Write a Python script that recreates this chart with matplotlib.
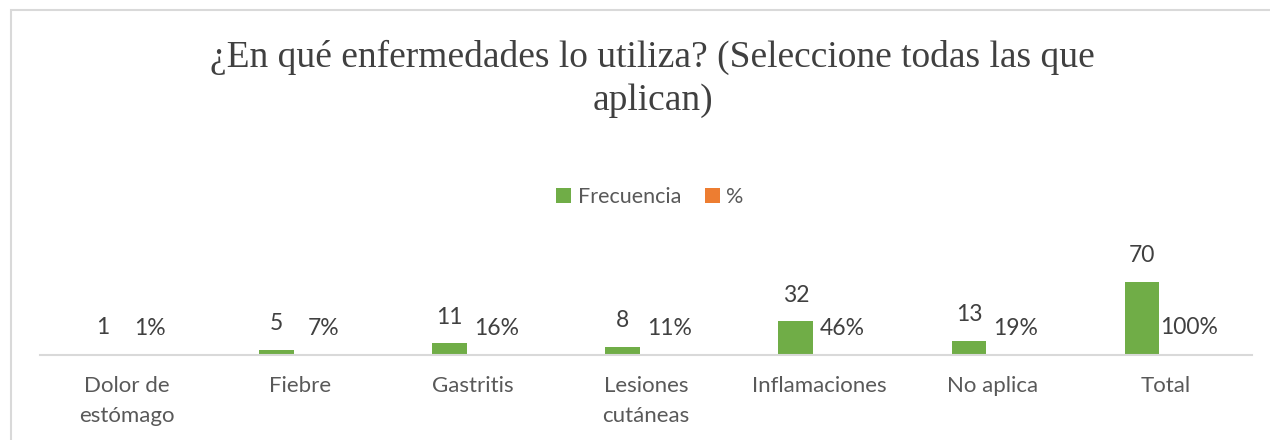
import matplotlib.pyplot as plt
import matplotlib.patches as mpatches
import numpy as np

# Datos del grafico
categorias = ["Dolor de\nestómago", "Fiebre", "Gastritis", "Lesiones\ncutáneas",
              "Inflamaciones", "No aplica", "Total"]
frecuencia = [1, 5, 11, 8, 32, 13, 70]
porcentaje = [0.01, 0.07, 0.16, 0.11, 0.46, 0.19, 1.00]
etiquetas_pct = ["1%", "7%", "16%", "11%", "46%", "19%", "100%"]

verde = "#70AD47"
naranja = "#ED7D31"
gris_texto = "#595959"
fuente = "Lato"

fig = plt.figure(figsize=(12.7, 4.4), dpi=100)

# marco del grafico
marco = mpatches.Rectangle((11 / 1270, -0.1), 1.2, 1 - 10 / 440 + 0.1,
                           transform=fig.transFigure, fill=False,
                           edgecolor="#D9D9D9", linewidth=1.5)
fig.patches.append(marco)

ax = fig.add_axes([40 / 1270, 85 / 440, 1212 / 1270, 84 / 440])
x = np.arange(len(categorias))
ancho = 0.2
desp = 0.135

b1 = ax.bar(x - desp, frecuencia, ancho, color=verde, label="Frecuencia")
b2 = ax.bar(x + desp, porcentaje, ancho, color=naranja, label="%")

for xi, v in zip(x, frecuencia):
    ax.annotate(str(v), (xi - desp, v), xytext=(0, 19), textcoords="offset points",
                ha="center", va="center", fontsize=16.5, color="#404040", family=fuente)
for xi, v, t in zip(x, porcentaje, etiquetas_pct):
    ax.annotate(t, (xi + desp, v), xytext=(0, 19), textcoords="offset points",
                ha="center", va="center", fontsize=16.5, color="#404040", family=fuente)

ax.set_xlim(-0.5, len(categorias) - 0.5)
ax.set_ylim(0, 80)
ax.set_yticks([])
ax.set_xticks(x)
ax.set_xticklabels(categorias, fontsize=16, color=gris_texto, family=fuente, linespacing=1.65)
ax.tick_params(axis="x", length=0, pad=15)
for s in ["top", "right", "left"]:
    ax.spines[s].set_visible(False)
ax.spines["bottom"].set_color("#D9D9D9")
ax.spines["bottom"].set_linewidth(1.5)
ax.patch.set_alpha(0)

fig.text(0.514, 1 - 57 / 440, "¿En qué enfermedades lo utiliza? (Seleccione todas las que",
         ha="center", va="center", fontsize=27, color="#404040", family="Liberation Serif")
fig.text(0.514, 1 - 101 / 440, "aplican)",
         ha="center", va="center", fontsize=27, color="#404040", family="Liberation Serif")

fig.legend(handles=[b1, b2], loc="center", bbox_to_anchor=(650 / 1270, 1 - 197 / 440),
           ncol=2, frameon=False, prop={"family": fuente, "size": 15.5},
           labelcolor=gris_texto, handlelength=0.7, handleheight=0.7,
           handletextpad=0.3, columnspacing=1.1)

fig.savefig("out.png", dpi=100)
